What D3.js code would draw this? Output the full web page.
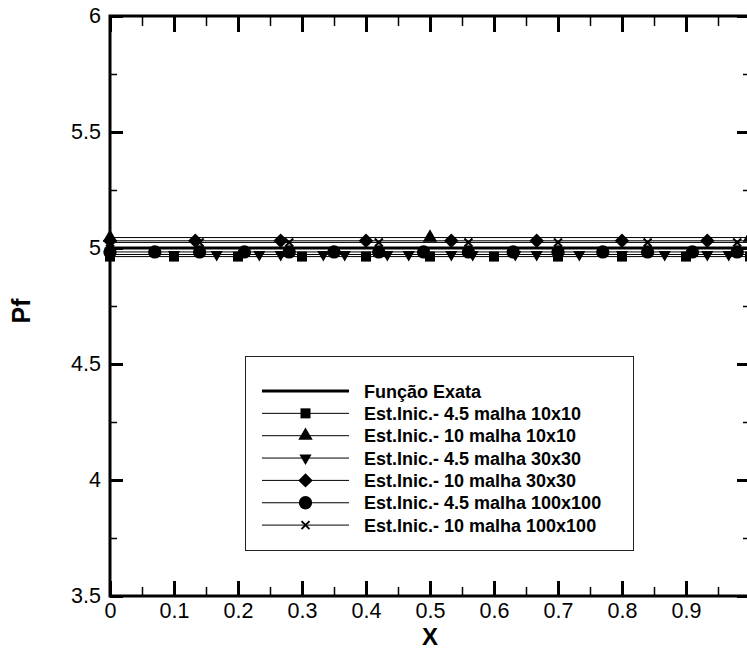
<!DOCTYPE html>
<html>
<head>
<meta charset="utf-8">
<script src="https://cdn.jsdelivr.net/npm/d3@7"></script>
<style>
  html, body { margin: 0; padding: 0; background: #fff; }
  svg { display: block; font-family: "Liberation Sans", Arial, Helvetica, sans-serif; }
</style>
</head>
<body>
<script>
// Pf along X: exact solution and numerical runs for two initial estimates and three meshes
const legendLabels = [
  "Função Exata",
  "Est.Inic.- 4.5 malha 10x10",
  "Est.Inic.- 10 malha 10x10",
  "Est.Inic.- 4.5 malha 30x30",
  "Est.Inic.- 10 malha 30x30",
  "Est.Inic.- 4.5 malha 100x100",
  "Est.Inic.- 10 malha 100x100"
];

const exactX = [0, 1];
const exactY = [5.0, 5.0];

const m45_10X = [0, 0.1, 0.2, 0.3, 0.4, 0.5, 0.6, 0.7, 0.8, 0.9, 1.0];
const m45_10Y = [4.963, 4.963, 4.963, 4.963, 4.963, 4.963, 4.963, 4.963, 4.963, 4.963, 4.963];

const m10_10X = [0, 0.5, 1.0];
const m10_10Y = [5.045, 5.045, 5.045];

const m45_30X = [0.1, 0.1667, 0.2333, 0.2667, 0.3333, 0.3667, 0.4333, 0.4667, 0.5333, 0.5667,
                 0.6333, 0.6667, 0.7333, 0.8, 0.8667, 0.9333, 0.9667];
const m45_30Y = [4.972, 4.972, 4.972, 4.972, 4.972, 4.972, 4.972, 4.972, 4.972, 4.972,
                 4.972, 4.972, 4.972, 4.972, 4.972, 4.972, 4.972];

const m10_30X = [0, 0.1333, 0.2667, 0.4, 0.5333, 0.6667, 0.8, 0.9333];
const m10_30Y = [5.031, 5.031, 5.031, 5.031, 5.031, 5.031, 5.031, 5.031];

const m45_100X = [0, 0.07, 0.14, 0.21, 0.28, 0.35, 0.42, 0.49, 0.56, 0.63, 0.70, 0.77, 0.84, 0.91, 0.98];
const m45_100Y = [4.983, 4.983, 4.983, 4.983, 4.983, 4.983, 4.983, 4.983, 4.983, 4.983, 4.983, 4.983, 4.983, 4.983, 4.983];

const m10_100X = [0, 0.14, 0.28, 0.42, 0.56, 0.70, 0.84, 0.98];
const m10_100Y = [5.024, 5.024, 5.024, 5.024, 5.024, 5.024, 5.024, 5.024];

const xMajorTicks = [0, 0.1, 0.2, 0.3, 0.4, 0.5, 0.6, 0.7, 0.8, 0.9, 1.0];
const xTickLabels = ["0", "0.1", "0.2", "0.3", "0.4", "0.5", "0.6", "0.7", "0.8", "0.9", ""];
const xMinorTicks = [0.05, 0.15, 0.25, 0.35, 0.45, 0.55, 0.65, 0.75, 0.85, 0.95];
const yMajorTicks = [3.5, 4, 4.5, 5, 5.5, 6];
const yTickLabels = ["3.5", "4", "4.5", "5", "5.5", "6"];
const yMinorTicks = [3.75, 4.25, 4.75, 5.25, 5.75];

const W = 747, H = 650;
const margin = { left: 110, top: 16 };
const plotW = 640, plotH = 580;

const x = d3.scaleLinear().domain([0, 1]).range([margin.left, margin.left + plotW]);
const y = d3.scaleLinear().domain([3.5, 6]).range([margin.top + plotH, margin.top]);

const svg = d3.select("body").append("svg").attr("width", W).attr("height", H);

// marker path generators
const tri = (s) => d3.symbol().type(d3.symbolTriangle).size(s)();
const markerPaths = {
  square: d3.symbol().type(d3.symbolSquare).size(100)(),
  triUp: tri(90),
  triDown: tri(64),
  diamond: d3.symbol().type(d3.symbolSquare).size(104)(),
  circle: d3.symbol().type(d3.symbolCircle).size(140)(),
  cross: "M-4,-4L4,4M-4,4L4,-4"
};
const markerRotate = { square: 0, triUp: 0, triDown: 180, diamond: 45, circle: 0, cross: 0 };

const series = [
  { xs: exactX, ys: exactY, marker: null, width: 3 },
  { xs: m45_10X, ys: m45_10Y, marker: "square", width: 1 },
  { xs: m10_10X, ys: m10_10Y, marker: "triUp", width: 1 },
  { xs: m45_30X, ys: m45_30Y, marker: "triDown", width: 1 },
  { xs: m10_30X, ys: m10_30Y, marker: "diamond", width: 1 },
  { xs: m45_100X, ys: m45_100Y, marker: "circle", width: 1 },
  { xs: m10_100X, ys: m10_100Y, marker: "cross", width: 1 }
];

function drawMarker(g, type, px, py) {
  const p = g.append("path")
    .attr("d", markerPaths[type])
    .attr("transform", `translate(${px},${py}) rotate(${markerRotate[type]})`);
  if (type === "cross") {
    p.attr("fill", "none").attr("stroke", "#000").attr("stroke-width", 2);
  } else {
    p.attr("fill", "#000");
  }
}

// series: line across the domain, then symbols
const dataG = svg.append("g");
series.forEach((s) => {
  const pts = s.xs.map((v, i) => [v, s.ys[i]]);
  const lineX = s.marker === null ? pts : [[0, s.ys[0]], ...pts, [1, s.ys[s.ys.length - 1]]];
  dataG.append("path")
    .datum(lineX)
    .attr("d", d3.line().x(d => x(d[0])).y(d => y(d[1])))
    .attr("fill", "none")
    .attr("stroke", "#000")
    .attr("stroke-width", s.width);
  if (s.marker) {
    pts.forEach(d => drawMarker(dataG, s.marker, x(d[0]), y(d[1])));
  }
});

// axes with inward ticks
function styleAxis(g, width) {
  g.select(".domain").remove();
  g.selectAll(".tick line").attr("stroke", "#000").attr("stroke-width", width);
}

const textFont = 21.5;

svg.append("g")
  .attr("transform", `translate(0,${y(3.5)})`)
  .call(d3.axisBottom(x).tickValues(xMajorTicks).tickSizeInner(-15).tickSizeOuter(0)
        .tickPadding(7).tickFormat((d, i) => xTickLabels[i]))
  .call(g => styleAxis(g, 3))
  .call(g => g.selectAll("text").attr("font-size", textFont).attr("fill", "#000")
        .attr("font-family", "Liberation Sans, Arial, sans-serif"));

svg.append("g")
  .attr("transform", `translate(0,${y(3.5)})`)
  .call(d3.axisBottom(x).tickValues(xMinorTicks).tickSizeInner(-9).tickSizeOuter(0).tickFormat(""))
  .call(g => styleAxis(g, 1.5));

svg.append("g")
  .attr("transform", `translate(0,${y(6)})`)
  .call(d3.axisTop(x).tickValues(xMajorTicks).tickSizeInner(-16).tickSizeOuter(0).tickFormat(""))
  .call(g => styleAxis(g, 3));

svg.append("g")
  .attr("transform", `translate(0,${y(6)})`)
  .call(d3.axisTop(x).tickValues(xMinorTicks).tickSizeInner(-10).tickSizeOuter(0).tickFormat(""))
  .call(g => styleAxis(g, 1.5));

svg.append("g")
  .attr("transform", `translate(${x(0)},0)`)
  .call(d3.axisLeft(y).tickValues(yMajorTicks).tickSizeInner(-13).tickSizeOuter(0)
        .tickPadding(9).tickFormat((d, i) => yTickLabels[i]))
  .call(g => styleAxis(g, 3))
  .call(g => g.selectAll("text").attr("font-size", textFont).attr("fill", "#000")
        .attr("font-family", "Liberation Sans, Arial, sans-serif"));

svg.append("g")
  .attr("transform", `translate(${x(0)},0)`)
  .call(d3.axisLeft(y).tickValues(yMinorTicks).tickSizeInner(-7).tickSizeOuter(0).tickFormat(""))
  .call(g => styleAxis(g, 1.5));

svg.append("g")
  .attr("transform", `translate(${x(1)},0)`)
  .call(d3.axisRight(y).tickValues(yMajorTicks).tickSizeInner(-13).tickSizeOuter(0).tickFormat(""))
  .call(g => styleAxis(g, 3));

svg.append("g")
  .attr("transform", `translate(${x(1)},0)`)
  .call(d3.axisRight(y).tickValues(yMinorTicks).tickSizeInner(-7).tickSizeOuter(0).tickFormat(""))
  .call(g => styleAxis(g, 1.5));

// frame
svg.append("rect")
  .attr("x", x(0)).attr("y", y(6))
  .attr("width", x(1) - x(0)).attr("height", y(3.5) - y(6))
  .attr("fill", "none").attr("stroke", "#000").attr("stroke-width", 3);

// axis titles
svg.append("text")
  .attr("x", (x(0) + x(1)) / 2).attr("y", 644.8)
  .attr("text-anchor", "middle")
  .attr("font-size", 24).attr("font-weight", "bold")
  .text("X");

svg.append("text")
  .attr("transform", "translate(30,311) rotate(-90)")
  .attr("text-anchor", "middle")
  .attr("font-size", 25).attr("font-weight", "bold")
  .text("Pf");

// legend
const leg = svg.append("g");
leg.append("rect")
  .attr("x", 245.5).attr("y", 356.5).attr("width", 388).attr("height", 194)
  .attr("fill", "#fff").attr("stroke", "#222").attr("stroke-width", 1);

const rowY0 = 391, rowStep = 22.35;
series.forEach((s, i) => {
  const ry = rowY0 + i * rowStep;
  leg.append("line")
    .attr("x1", 262).attr("x2", 349).attr("y1", ry).attr("y2", ry)
    .attr("stroke", "#000").attr("stroke-width", s.width);
  if (s.marker) drawMarker(leg, s.marker, 305.5, ry);
  leg.append("text")
    .attr("x", 364).attr("y", ry + 6.5)
    .attr("font-size", 18).attr("font-weight", "bold")
    .text(legendLabels[i]);
});
</script>
</body>
</html>
